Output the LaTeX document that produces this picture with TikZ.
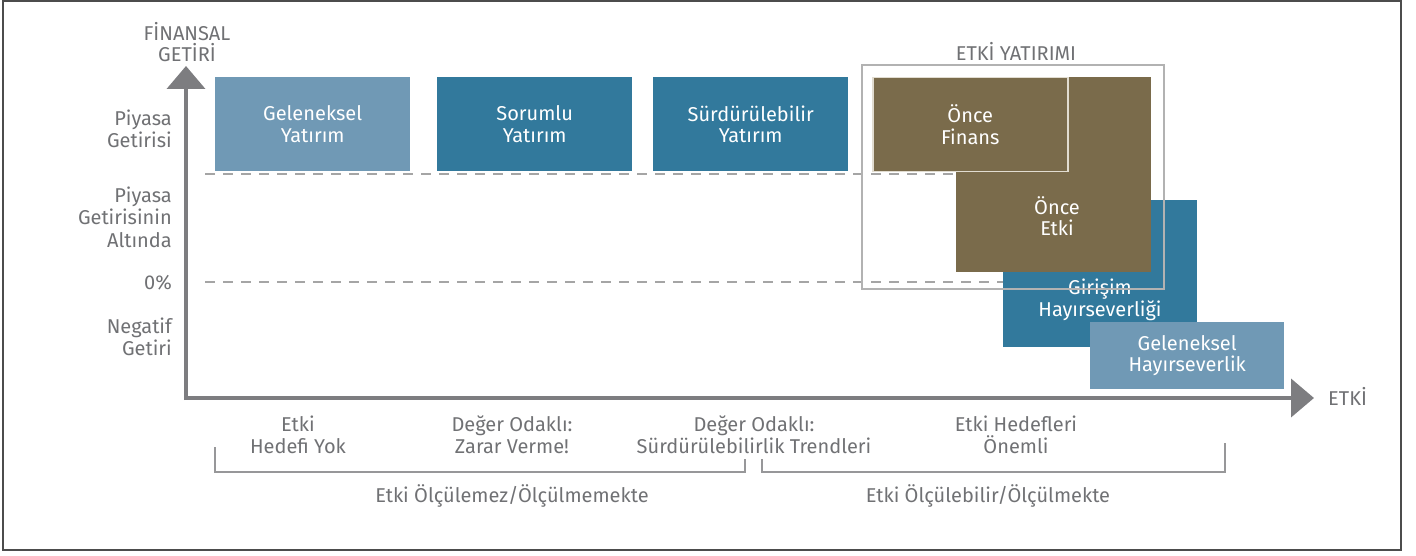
\documentclass[tikz,border=0pt]{standalone}
\usepackage{fontspec}
\setmainfont{Fira Sans}
\usetikzlibrary{arrows.meta}
\definecolor{lblue}{RGB}{112,153,181}
\definecolor{dblue}{RGB}{50,121,156}
\definecolor{brn}{RGB}{122,107,75}
\definecolor{axisgray}{RGB}{125,125,128}
\definecolor{txtgray}{RGB}{112,113,116}
\definecolor{dashgray}{RGB}{165,165,165}
\definecolor{framegray}{RGB}{178,178,178}
\definecolor{edgelight}{RGB}{225,220,208}
\begin{document}
\begin{tikzpicture}[x=1pt,y=-1pt,
  box/.style={inner sep=0pt, minimum width=195pt, anchor=north west},
  boxtext/.style={text=white, align=center, inner sep=0pt, font=\fontsize{20}{21.5}\selectfont},
  ylab/.style={text=txtgray, align=right, anchor=east, inner sep=0pt, font=\fontsize{20}{22.5}\selectfont},
  axlab/.style={text=txtgray, align=center, inner sep=0pt, font=\fontsize{20}{21}\selectfont},
  botlab/.style={text=txtgray, align=center, inner sep=0pt, font=\fontsize{20}{22}\selectfont},
  axisline/.style={draw=axisgray, line width=4pt},
  dashline/.style={draw=dashgray, line width=1.2pt, dash pattern=on 10pt off 8pt},
  bracket/.style={draw=axisgray!80, line width=1.3pt}
]
\useasboundingbox (0,0) rectangle (1416,556);
\draw[draw=black!70, line width=1.2pt] (3,1) rectangle (1401,550);

% dashed reference lines
\coordinate (d1a) at (205,174);
\coordinate (d1b) at (1000,174);
\coordinate (d2a) at (205,282);
\coordinate (d2b) at (1010,282);
\draw[dashline] (d1a) -- (d1b);
\draw[dashline] (d2a) -- (d2b);

% axes
\coordinate (ytip) at (186,66);
\coordinate (xtip) at (1314,398);
\draw[axisline, -{Triangle[width=38pt,length=23pt]}] (186,400) -- (ytip);
\draw[axisline, -{Triangle[width=38pt,length=23pt]}] (184,398) -- (xtip);
\node[axlab] (ylabel) at (187,42) {FİNANSAL\\GETİRİ};
\node[axlab, anchor=west] (xlabel) at (1328,396) {ETKİ};

% y labels
\node[ylab] (l1) at (172,129) {Piyasa\\Getirisi};
\node[ylab] (l2) at (172,217) {Piyasa\\Getirisinin\\Altında};
\node[ylab] (l3) at (172,283) {0\%};
\node[ylab] (l4) at (172,337) {Negatif\\Getiri};

% top row boxes
\node[box, fill=lblue, minimum height=94pt] (gy) at (215,77) {};
\node[boxtext] (gyt) at (gy.center) {Geleneksel\\Yatırım};
\node[box, fill=dblue, minimum height=94pt] (sy) at (437,77) {};
\node[boxtext] (syt) at (sy.center) {Sorumlu\\Yatırım};
\node[box, fill=dblue, minimum height=94pt] (suy) at (653,77) {};
\node[boxtext] (suyt) at (suy.center) {Sürdürülebilir\\Yatırım};

% philanthropy boxes
\node[box, fill=dblue, minimum width=194pt, minimum height=147pt] (gh) at (1003,200) {};
\node[boxtext] (ght) at (1100,300) {Girişim\\Hayırseverliği};
\node[box, fill=lblue, minimum width=194pt, minimum height=67pt] (ghv) at (1090,322) {};
\node[boxtext] (ghvt) at (ghv.center) {Geleneksel\\Hayırseverlik};

% impact investing boxes
\node[box, fill=brn, minimum width=195pt, minimum height=195pt] (oe) at (956,77) {};
\node[boxtext] (oet) at (1057,216) {Önce\\Etki};
\node[box, fill=brn, draw=edgelight, line width=1.5pt, minimum width=195pt, minimum height=94pt] (of) at (872,77) {};
\node[boxtext] (oft) at (of.center) {Önce\\Finans};

% impact investing frame
\node[draw=framegray, line width=1.8pt, minimum width=302pt, minimum height=224pt, inner sep=0pt, anchor=north west] (frame) at (861,64) {};
\node[axlab, anchor=south] (framelab) at (1016,61) {ETKİ YATIRIMI};

% bottom labels
\node[botlab] (b1) at (298,435) {Etki\\Hedefi Yok};
\node[botlab] (b2) at (512,435) {Değer Odaklı:\\Zarar Verme!};
\node[botlab] (b3) at (754,435) {Değer Odaklı:\\Sürdürülebilirlik Trendleri};
\node[botlab] (b4) at (1016,435) {Etki Hedefleri\\Önemli};

% brackets
\coordinate (ba1) at (215,447);
\coordinate (ba2) at (215,472);
\coordinate (ba3) at (745,472);
\coordinate (ba4) at (745,459);
\coordinate (bb1) at (762,459);
\coordinate (bb2) at (762,472);
\coordinate (bb3) at (1225,472);
\coordinate (bb4) at (1225,443);
\draw[bracket] (ba1) -- (ba2) -- (ba3) -- (ba4);
\draw[bracket] (bb1) -- (bb2) -- (bb3) -- (bb4);
\node[botlab] (m1) at (512,496) {Etki Ölçülemez/Ölçülmemekte};
\node[botlab] (m2) at (988,496) {Etki Ölçülebilir/Ölçülmekte};
\end{tikzpicture}
\end{document}
